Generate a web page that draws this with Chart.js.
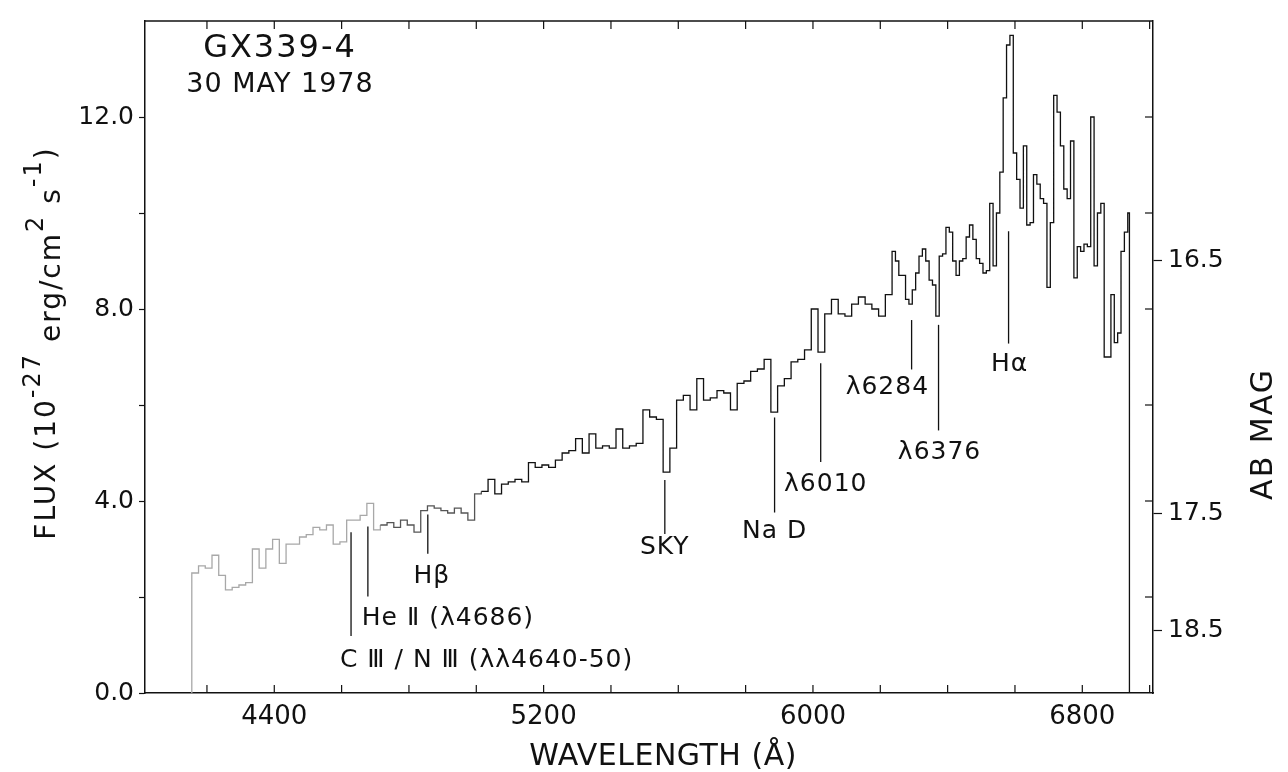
<!DOCTYPE html>
<html>
<head>
<meta charset="utf-8">
<script src="https://cdn.jsdelivr.net/npm/chart.js@4.4.1/dist/chart.umd.min.js"></script>
<style>
  html, body { margin: 0; padding: 0; background: #fff; }
  #wrap { width: 1288px; height: 772px; }
</style>
</head>
<body>
<div id="wrap"><canvas id="spec"></canvas></div>
<script>
// bin left edges (Å) and flux (10^-27 erg/cm2 s-1)
const wavelength = [
  4155, 4175, 4195, 4215, 4235, 4255, 4275, 4295, 4315, 4335,
  4355, 4375, 4395, 4415, 4435, 4455, 4475, 4495, 4515, 4535,
  4555, 4575, 4595, 4615, 4635, 4655, 4675, 4695, 4715, 4735,
  4755, 4775, 4795, 4815, 4835, 4855, 4875, 4895, 4915, 4935,
  4955, 4975, 4995, 5015, 5035, 5055, 5075, 5095, 5115, 5135,
  5155, 5175, 5195, 5215, 5235, 5255, 5275, 5295, 5315, 5335,
  5355, 5375, 5395, 5415, 5435, 5455, 5475, 5495, 5515, 5535,
  5555, 5575, 5595, 5615, 5635, 5655, 5675, 5695, 5715, 5735,
  5755, 5775, 5795, 5815, 5835, 5855, 5875, 5895, 5915, 5935,
  5955, 5975, 5995, 6015, 6035, 6055, 6075, 6095, 6115, 6135,
  6155, 6175, 6195, 6215, 6225, 6235, 6245, 6255, 6265, 6275,
  6285, 6295, 6305, 6315, 6325, 6335, 6345, 6355, 6365, 6375,
  6385, 6395, 6405, 6415, 6425, 6435, 6445, 6455, 6465, 6475,
  6485, 6495, 6505, 6515, 6525, 6535, 6545, 6555, 6565, 6575,
  6585, 6595, 6605, 6615, 6625, 6635, 6645, 6655, 6665, 6675,
  6685, 6695, 6705, 6715, 6725, 6735, 6745, 6755, 6765, 6775,
  6785, 6795, 6805, 6815, 6825, 6835, 6845, 6855, 6865, 6875,
  6885, 6895, 6905, 6915, 6925, 6935
];
const flux = [
  2.5, 2.65, 2.6, 2.87, 2.45, 2.15, 2.2, 2.25, 2.3, 3.0,
  2.6, 3.0, 3.2, 2.7, 3.1, 3.1, 3.25, 3.3, 3.45, 3.4,
  3.5, 3.1, 3.15, 3.6, 3.6, 3.7, 3.95, 3.4, 3.5, 3.55,
  3.45, 3.6, 3.5, 3.35, 3.8, 3.9, 3.85, 3.8, 3.75, 3.85,
  3.75, 3.6, 4.15, 4.2, 4.45, 4.15, 4.35, 4.4, 4.45, 4.4,
  4.8, 4.7, 4.75, 4.7, 4.85, 5.0, 5.05, 5.3, 5.0, 5.4,
  5.1, 5.15, 5.1, 5.5, 5.1, 5.15, 5.2, 5.9, 5.75, 5.7,
  4.6, 5.1, 6.1, 6.2, 5.9, 6.55, 6.1, 6.15, 6.3, 6.25,
  5.9, 6.45, 6.5, 6.7, 6.75, 6.95, 5.85, 6.4, 6.55, 6.9,
  6.95, 7.15, 8.0, 7.1, 7.9, 8.2, 7.9, 7.85, 8.1, 8.25,
  8.1, 8.0, 7.85, 8.3, 8.3, 9.2, 9.0, 8.7, 8.7, 8.2,
  8.1, 8.4, 8.75, 9.1, 9.25, 9.0, 8.6, 8.5, 7.85, 9.1,
  9.15, 9.7, 9.6, 9.0, 8.7, 9.0, 9.05, 9.5, 9.75, 9.45,
  9.05, 8.95, 8.75, 8.8, 10.2, 8.9, 10.0, 10.85, 12.4, 13.5,
  13.7, 11.25, 10.7, 10.1, 11.4, 9.75, 9.8, 10.8, 10.6, 10.3,
  10.2, 8.45, 9.8, 12.45, 12.1, 11.4, 10.5, 10.3, 11.5, 8.65,
  9.3, 9.2, 9.35, 9.3, 12.0, 8.9, 10.0, 10.2, 7.0, 7.0,
  8.3, 7.3, 7.5, 9.2, 9.6, 10.0
];
const specEnd = 6940;

const xTicks = [4200, 4400, 4600, 4800, 5000, 5200, 5400, 5600, 5800, 6000, 6200, 6400, 6600, 6800, 7000];
const xLabels = [4400, 5200, 6000, 6800];
const yTicks = [0, 2, 4, 6, 8, 10, 12];
const yLabels = [0, 4, 8, 12];
// AB magnitude marks on the right, placed at their flux level
const magFlux = [9.02, 3.74, 1.30];
const magLabels = ['16.5', '17.5', '18.5'];

// line identifications
const markerLambda = [4628, 4678, 4856, 5560, 5886, 6023, 6293, 6373, 6581];
const markerTop = [3.35, 3.47, 3.72, 4.44, 5.74, 6.87, 7.77, 7.67, 9.62];
const markerBottom = [1.19, 2.01, 2.90, 3.31, 3.76, 4.81, 6.74, 5.47, 7.28];
const markerText = ['C Ⅲ / N Ⅲ (λλ4640-50)', 'He Ⅱ (λ4686)', 'Hβ', 'SKY', 'Na D', 'λ6010', 'λ6284', 'λ6376', 'Hα'];
// where each label sits: [wavelength, flux, align]
const markerLabelAt = [
  [4595, 0.68, 'left'], [4660, 1.56, 'left'], [4868, 2.43, 'center'],
  [5560, 3.04, 'center'], [5886, 3.37, 'center'], [6038, 4.34, 'center'],
  [6221, 6.37, 'center'], [6376, 5.02, 'center'], [6584, 6.85, 'center']
];

// y title pieces: text, size, shift off the baseline (negative = raised)
const yTitle = [
  ['FLUX (10', 28, 0], ['-27', 24, -15], [' erg/cm', 28, 5],
  ['2', 24, -12], [' s', 28, 5], ['-1', 24, -14], [')', 28, 0]
];

const FONT = '"DejaVu Sans", sans-serif';
const INK = '#111';

function texto(ctx, s, x, y, size, align, spacing) {
  ctx.font = size + 'px ' + FONT;
  ctx.letterSpacing = (spacing || 0) + 'px';
  ctx.textAlign = align || 'left';
  ctx.fillText(s, x, y);
  const w = ctx.measureText(s).width;
  ctx.letterSpacing = '0px';
  return w;
}

const decor = {
  id: 'decor',
  afterDraw(chart) {
    const ctx = chart.ctx;
    const a = chart.chartArea;
    const sx = chart.scales.x;
    const sy = chart.scales.y;
    ctx.save();
    ctx.strokeStyle = INK;
    ctx.fillStyle = INK;

    // top frame line
    ctx.lineWidth = 1.5;
    ctx.beginPath();
    ctx.moveTo(a.left, a.top);
    ctx.lineTo(a.right, a.top);
    ctx.stroke();

    // inward ticks, bottom + top
    ctx.lineWidth = 1.2;
    xTicks.forEach(v => {
      const px = sx.getPixelForValue(v);
      if (px < a.left || px > a.right) return;
      ctx.beginPath();
      ctx.moveTo(px, a.bottom); ctx.lineTo(px, a.bottom - 8);
      ctx.moveTo(px, a.top); ctx.lineTo(px, a.top + 8);
      ctx.stroke();
    });
    // inward ticks on the right, mirror of the flux ticks
    yTicks.slice(1).forEach(v => {
      const py = sy.getPixelForValue(v);
      ctx.beginPath();
      ctx.moveTo(a.right, py); ctx.lineTo(a.right - 8, py);
      ctx.stroke();
    });

    // identification lines + labels
    ctx.lineWidth = 1.3;
    ctx.textBaseline = 'middle';
    markerLambda.forEach((lam, i) => {
      const px = sx.getPixelForValue(lam);
      ctx.beginPath();
      ctx.moveTo(px, sy.getPixelForValue(markerTop[i]));
      ctx.lineTo(px, sy.getPixelForValue(markerBottom[i]));
      ctx.stroke();
      const at = markerLabelAt[i];
      texto(ctx, markerText[i], sx.getPixelForValue(at[0]), sy.getPixelForValue(at[1]), 25, at[2], 1);
    });

    // object name and date
    ctx.textBaseline = 'alphabetic';
    texto(ctx, 'GX339-4', 280, 57, 32, 'center', 2);
    texto(ctx, '30 MAY 1978', 280, 92, 27, 'center', 1);

    // x title
    texto(ctx, 'WAVELENGTH (Å)', 663, 765, 30, 'center', 0.5);

    // y title with exponents, rotated; measure first so it can be centred
    let total = 0;
    yTitle.forEach(p => {
      ctx.font = p[1] + 'px ' + FONT;
      ctx.letterSpacing = '2px';
      total += ctx.measureText(p[0]).width;
    });
    ctx.save();
    ctx.translate(55, 343 + total / 2);
    ctx.rotate(-Math.PI / 2);
    let cx = 0;
    yTitle.forEach(p => { cx += texto(ctx, p[0], cx, p[2], p[1], 'left', 2); });
    ctx.restore();

    // right title
    ctx.save();
    ctx.translate(1272, 434);
    ctx.rotate(-Math.PI / 2);
    texto(ctx, 'AB MAG', 0, 0, 30, 'center', 2);
    ctx.restore();

    ctx.restore();
  }
};

document.addEventListener('DOMContentLoaded', function() {
  const points = [{ x: wavelength[0], y: 0 }];
  wavelength.forEach((w, i) => points.push({ x: w, y: flux[i] }));
  points.push({ x: specEnd, y: 0 });

  const tickFont = { family: FONT, size: 26 };

  new Chart(document.getElementById('spec'), {
    type: 'line',
    data: {
      datasets: [{
        data: points,
        stepped: true,
        borderWidth: 1.3,
        borderColor: '#111',
        pointRadius: 0,
        fill: false,
        segment: {
          borderColor: c => c.p0.parsed.x < 4700 ? '#a8a8a8' : (c.p0.parsed.x < 5000 ? '#555' : '#111')
        },
        xAxisID: 'x',
        yAxisID: 'y'
      }]
    },
    options: {
      responsive: true,
      maintainAspectRatio: false,
      animation: false,
      devicePixelRatio: 1,
      layout: { padding: { top: 10, left: 0, right: 0, bottom: 0 } },
      plugins: { legend: { display: false }, tooltip: { enabled: false } },
      scales: {
        x: {
          type: 'linear',
          position: 'bottom',
          min: 4016,
          max: 7010,
          afterBuildTicks: s => { s.ticks = xTicks.map(v => ({ value: v })); },
          afterFit: s => { s.height = 79; },
          grid: { drawOnChartArea: false, drawTicks: false },
          border: { display: true, color: INK, width: 1.5 },
          ticks: {
            font: tickFont, color: INK, padding: 9, maxRotation: 0, autoSkip: false,
            callback: v => xLabels.includes(v) ? String(v) : ''
          }
        },
        y: {
          type: 'linear',
          position: 'left',
          min: 0,
          max: 14,
          afterBuildTicks: s => { s.ticks = yTicks.map(v => ({ value: v })); },
          afterFit: s => { s.width = 145; },
          grid: { drawOnChartArea: false, tickLength: 6, tickColor: INK, tickWidth: 1.2 },
          border: { display: true, color: INK, width: 1.5 },
          ticks: {
            font: { family: FONT, size: 25 }, color: INK, padding: 5,
            callback: v => yLabels.includes(v) ? v.toFixed(1) : ''
          }
        },
        mag: {
          type: 'linear',
          position: 'right',
          min: 0,
          max: 14,
          afterBuildTicks: s => { s.ticks = magFlux.map(v => ({ value: v })); },
          afterFit: s => { s.width = 135; },
          grid: { drawOnChartArea: false, tickLength: 9, tickColor: INK, tickWidth: 1.2 },
          border: { display: true, color: INK, width: 1.5 },
          ticks: {
            font: { family: FONT, size: 25 }, color: INK, padding: 6,
            callback: (v, i) => magLabels[i]
          }
        }
      }
    },
    plugins: [decor]
  });
});
</script>
</body>
</html>
